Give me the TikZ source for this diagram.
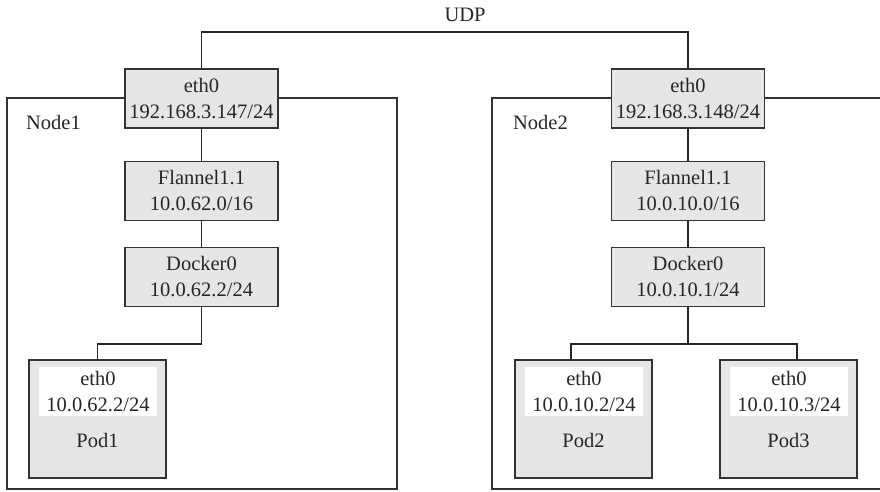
\documentclass[tikz,border=0pt]{standalone}
\usepackage{fontspec}
\setmainfont{Liberation Serif}
\definecolor{linec}{HTML}{333333}
\definecolor{boxfill}{HTML}{E6E6E6}
\newcommand{\fsz}{\fontsize{20.5}{26}\selectfont}
\begin{document}
\begin{tikzpicture}[x=1pt,y=-1pt,
  every node/.style={font=\fsz, text=black!85},
  box/.style={draw=linec, fill=boxfill, line width=1.2pt, minimum width=153pt, minimum height=59pt, inner sep=0pt, align=center},
  container/.style={draw=linec, line width=1.2pt, inner sep=0pt},
  podbox/.style={draw=linec, fill=boxfill, line width=1.2pt, minimum width=137pt, minimum height=118pt, inner sep=0pt},
  ipbox/.style={fill=white, minimum width=118pt, minimum height=49pt, inner sep=0pt, align=center},
  wire/.style={draw=black!85, line width=1.2pt}
]
\fill[white] (0,0) rectangle (880,491);
\clip (0,0) rectangle (880,491);
% containers
\node[container, minimum width=390pt, minimum height=391pt] (node1) at (202,293.5) {};
\node[container, minimum width=393pt, minimum height=391pt] (node2) at (688.5,293.5) {};
\node (lab1) at (53.5,122) {Node1};
\node (lab2) at (540.5,122) {Node2};
% left stack
\node[box] (ethL) at (201.5,98.5) {eth0\\192.168.3.147/24};
\node[box] (flanL) at (201.5,191) {Flannel1.1\\10.0.62.0/16};
\node[box] (dockL) at (201.5,277) {Docker0\\10.0.62.2/24};
% right stack
\node[box] (ethR) at (688,98.5) {eth0\\192.168.3.148/24};
\node[box] (flanR) at (688,191) {Flannel1.1\\10.0.10.0/16};
\node[box] (dockR) at (688,277) {Docker0\\10.0.10.1/24};
% pods
\node[podbox] (pod1) at (97.5,419) {};
\node[ipbox] (ip1) at (98,391.5) {eth0\\10.0.62.2/24};
\node (p1) at (97.5,440) {Pod1};
\node[podbox] (pod2) at (583.5,419) {};
\node[ipbox] (ip2) at (584,391.5) {eth0\\10.0.10.2/24};
\node (p2) at (583.5,440) {Pod2};
\node[podbox] (pod3) at (788.5,419) {};
\node[ipbox] (ip3) at (789,391.5) {eth0\\10.0.10.3/24};
\node (p3) at (788.5,440) {Pod3};
% UDP link
\coordinate (udp) at (446,32);
\node (udplab) at (465,15) {UDP};
\draw[wire] (ethL.north) |- (udp) -| (ethR.north);
% vertical links
\draw[wire] (ethL.south) -- (flanL.north);
\draw[wire] (flanL.south) -- (dockL.north);
\draw[wire] (ethR.south) -- (flanR.north);
\draw[wire] (flanR.south) -- (dockR.north);
% docker to pods
\coordinate (jL) at (201.5,344);
\coordinate (jR) at (688,344);
\draw[wire] (dockL.south) -- (jL) -| (pod1.north);
\draw[wire] (dockR.south) -- (jR) -| ([xshift=-12.5pt]pod2.north);
\draw[wire] (jR) -| ([xshift=8.5pt]pod3.north);
\end{tikzpicture}
\end{document}
